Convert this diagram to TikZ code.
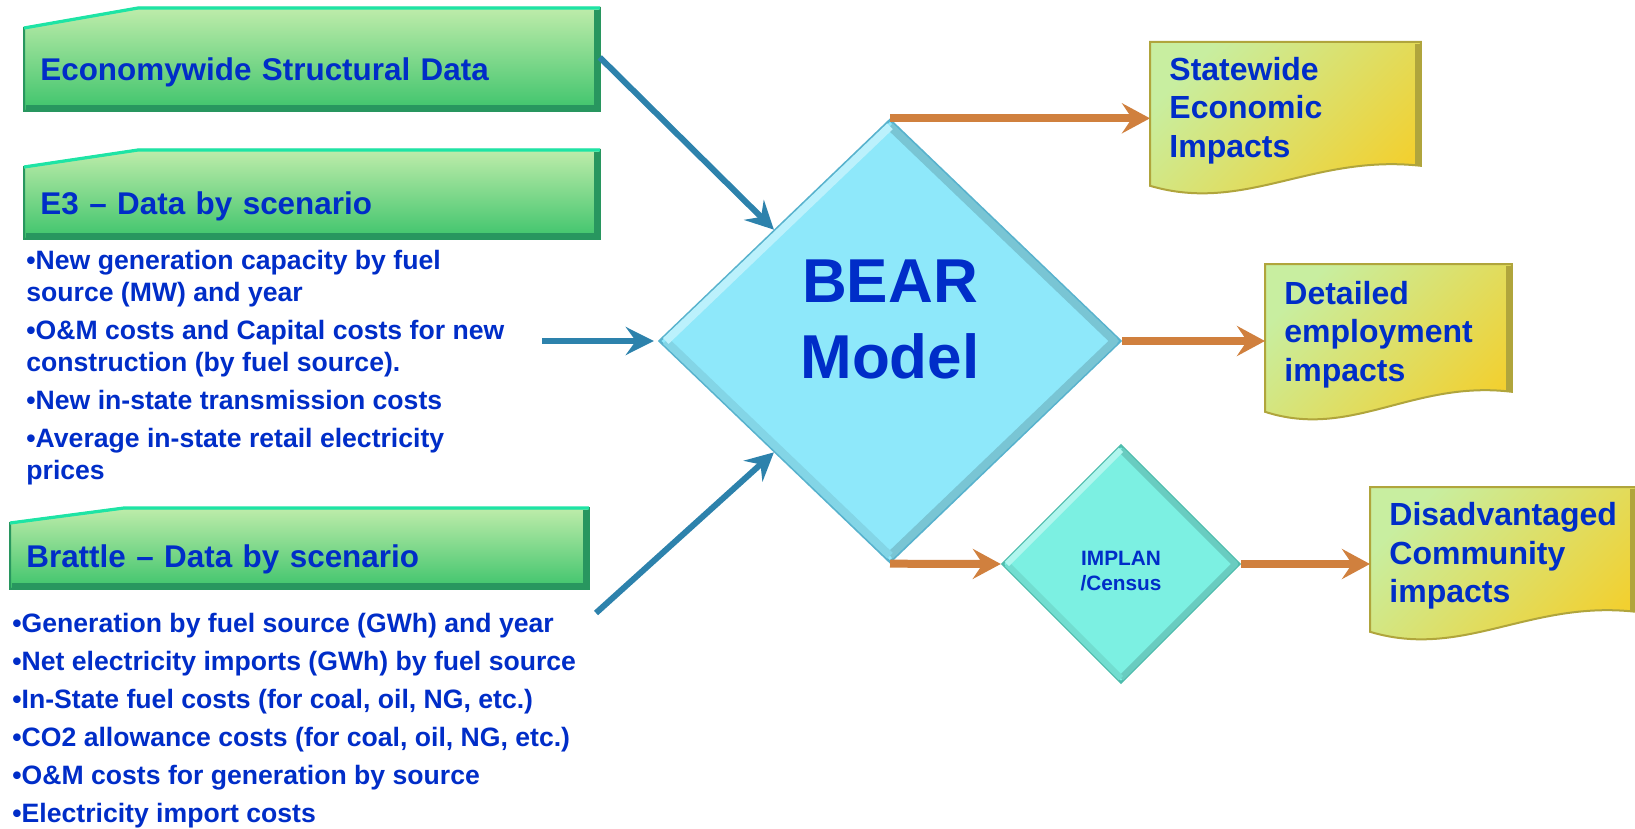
\documentclass[tikz,border=0pt]{standalone}
\usepackage{fontspec}
\setmainfont{Liberation Sans}
\usetikzlibrary{positioning, calc, shapes.geometric, arrows.meta, backgrounds}

\definecolor{testoblu}{RGB}{0,45,200}
\definecolor{verdechiaro}{RGB}{190,236,170}
\definecolor{verdescuro}{RGB}{62,196,108}
\definecolor{verdebordo}{RGB}{40,150,95}
\definecolor{verdeacqua}{RGB}{30,228,165}
\definecolor{ciano}{RGB}{142,232,250}
\definecolor{cianobordo}{RGB}{88,178,205}
\definecolor{turchese}{RGB}{124,240,226}
\definecolor{turchesebordo}{RGB}{78,188,172}
\definecolor{docverde}{RGB}{200,238,160}
\definecolor{docoro}{RGB}{242,208,48}
\definecolor{docbordo}{RGB}{176,165,60}
\definecolor{frecciablu}{RGB}{45,130,172}
\definecolor{frecciaarancio}{RGB}{208,128,62}

% barra verde con angolo smussato (#1 nodo, #2 rialzo)
\newcommand{\barraverde}[2]{%
  \filldraw[barra] (#1.south west) -- (#1.north west) -- ($(#1.north west)+(114,-#2)$)
    -- ($(#1.north east)+(0,-#2)$) -- (#1.south east) -- cycle;
  \draw[verdeacqua, line width=1.6pt] (#1.north west) -- ($(#1.north west)+(114,-#2)$)
    -- ($(#1.north east)+(0,-#2)$);
  \draw[verdebordo, line width=3pt] ($(#1.south west)+(2,-3)$) -- ($(#1.south east)+(-3,-3)$)
    -- ($(#1.north east)+(-3,-#2+2)$);
}
% foglio con bordo ondulato
\newcommand{\foglio}[1]{%
  \filldraw[documento] (#1.north west) -- (#1.north east) -- ($(#1.south east)+(0,-13)$)
    .. controls ($(#1.south west)!0.6!(#1.south east)+(0,-25)$) and ($(#1.south west)!0.35!(#1.south east)+(0,35)$)
    .. ($(#1.south west)+(0,7)$) -- cycle;
  \draw[docbordo, line width=3pt] ($(#1.north east)+(-3,2)$) -- ($(#1.south east)+(-3,-14)$);
}
% smussatura del rombo (#1 nodo, #2 colore, #3 rientro)
\newcommand{\smusso}[3]{%
  \draw[#2!85!black, line width=#3, line join=round] ($(#1.north)!#3!(#1.south)$) -- ($(#1.east)!#3!(#1.west)$)
    -- ($(#1.south)!#3!(#1.north)$);
  \draw[#2!92!black, line width=#3, line join=round] ($(#1.south)!#3!(#1.north)$) -- ($(#1.west)!#3!(#1.east)$);
  \draw[#2!60!white, line width=#3, line join=round] ($(#1.west)!#3!(#1.east)$) -- ($(#1.north)!#3!(#1.south)$);
}

\begin{document}
\begin{tikzpicture}[x=0.5pt, y=-0.5pt,
  titolo/.style={rectangle, inner xsep=8pt, inner ysep=0pt, anchor=north west, align=left, text depth=0pt,
    text=testoblu, font=\fontsize{15.7}{19}\selectfont\bfseries},
  barra/.style={top color=verdechiaro, bottom color=verdescuro, draw=verdebordo, line width=1pt},
  elenco/.style={inner sep=0pt, align=left, text=testoblu, font=\fontsize{13.3}{16}\selectfont\bfseries},
  rombo/.style={diamond, aspect=1, inner sep=0pt, line width=1.2pt},
  documento/.style={left color=docverde, right color=docoro, shading angle=45, draw=docbordo, line width=1pt},
  impatto/.style={rectangle, inner xsep=9.5pt, inner ysep=0pt, anchor=north west, align=left,
    text=testoblu, font=\fontsize{16}{19.25}\selectfont\bfseries},
  fblu/.style={-{Stealth[length=14pt,width=14pt,inset=5pt]}, line width=3pt, frecciablu},
  farancio/.style={-{Stealth[length=14pt,width=15pt,inset=5pt]}, line width=4pt, frecciaarancio}]
  \useasboundingbox (0,0) rectangle (1635,829);

  % dati in ingresso
  \node[titolo, text width=271.5pt, minimum height=41pt] (econ) at (24,28) {Economywide Structural Data};
  \node[titolo, text width=271.5pt, minimum height=35.5pt] (e3) at (24,167) {E3 -- Data by scenario};
  \node[elenco, below=5.5pt of e3.south west, anchor=north west, xshift=1pt] (elencoE3)
    {•New generation capacity by fuel\\ source (MW) and year\\[3pt]
     •O\&M costs and Capital costs for new\\ construction (by fuel source).\\[3pt]
     •New in-state transmission costs\\[3pt]
     •Average in-state retail electricity\\ prices};
  \node[titolo, text width=273pt, minimum height=32.5pt] (brattle) at (10,523) {Brattle -- Data by scenario};
  \node[elenco, font=\fontsize{13.3}{19}\selectfont\bfseries, below=12pt of brattle.south west, anchor=north west, xshift=1pt] (elencoBrattle)
    {•Generation by fuel source (GWh) and year\\
     •Net electricity imports (GWh) by fuel source\\
     •In-State fuel costs (for coal, oil, NG, etc.)\\
     •CO2 allowance costs (for coal, oil, NG, etc.)\\
     •O\&M costs for generation by source\\
     •Electricity import costs};

  % modelli
  \node[rombo, fill=ciano, draw=cianobordo, minimum width=231pt, minimum height=221.5pt] (bear) at (890,341) {};
  \smusso{bear}{ciano}{4pt}
  \node[text=testoblu, align=center, font=\fontsize{31}{38}\selectfont\bfseries] (beartesto) at (890,319) {BEAR\\Model};
  \node[rombo, fill=turchese, draw=turchesebordo, minimum width=119pt, minimum height=119pt] (implan) at (1121,564) {};
  \smusso{implan}{turchese}{3pt}
  \node[text=testoblu, align=center, font=\fontsize{10.4}{12.5}\selectfont\bfseries] (implantesto) at (1121,571) {IMPLAN\\/Census};

  % risultati
  \node[impatto, text width=116pt, minimum height=68pt] (stato) at (1150,42) {Statewide\\Economic\\Impacts};
  \node[impatto, text width=104pt, minimum height=70pt] (dettaglio) at (1265,264) {Detailed\\employment\\impacts};
  \node[impatto, text width=113.5pt, minimum height=68.5pt] (svantaggio) at (1370,487) {Disadvantaged\\Community\\impacts};

  \begin{pgfonlayer}{background}
    \barraverde{econ}{20}
    \barraverde{e3}{17}
    \barraverde{brattle}{15}
    \foglio{stato}
    \foglio{dettaglio}
    \foglio{svantaggio}
  \end{pgfonlayer}

  % frecce blu
  \coordinate (e3out) at (542,341);
  \coordinate (brattleout) at (596,613);
  \draw[fblu] ([yshift=6pt]econ.east) -- (bear.north west);
  \draw[fblu] (e3out) -- ([xshift=-2pt]bear.west);
  \draw[fblu] (brattleout) -- (bear.south west);
  % frecce arancio
  \draw[farancio] (bear.north) -- (bear.north -| stato.west);
  \draw[farancio] (bear.east) -- (bear.east -| dettaglio.west);
  \draw[farancio] (bear.south) -- (implan.west);
  \draw[farancio] (implan.east) -- (implan.east -| svantaggio.west);
\end{tikzpicture}
\end{document}
